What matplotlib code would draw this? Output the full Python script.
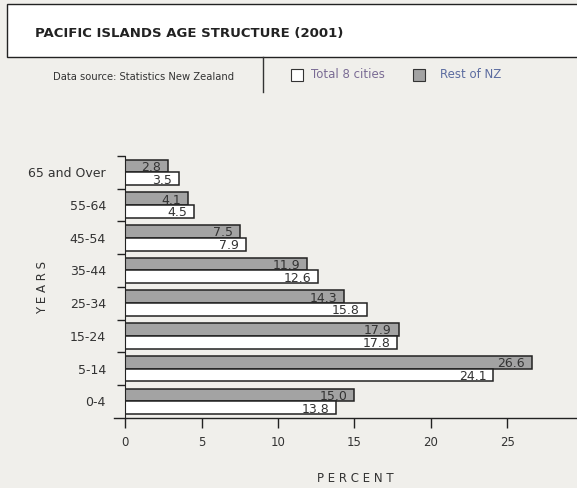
import matplotlib.pyplot as plt
from matplotlib.patches import Rectangle
from matplotlib.lines import Line2D

# age groups, bottom to top
ages = ['0-4', '5-14', '15-24', '25-34', '35-44', '45-54', '55-64', '65 and Over']
rest_nz = [15.0, 26.6, 17.9, 14.3, 11.9, 7.5, 4.1, 2.8]
total_8 = [13.8, 24.1, 17.8, 15.8, 12.6, 7.9, 4.5, 3.5]
xticks = [0, 5, 10, 15, 20, 25, 30]

bg = '#f0efeb'
txt = '#333333'
grey = '#a3a3a3'

W, H = 577, 488
fig = plt.figure(figsize=(W / 100, H / 100), dpi=100, facecolor=bg)

# header box
fig.patches.append(Rectangle((7 / W, 1 - 57 / H), 1, 53 / H, transform=fig.transFigure,
                             facecolor='white', edgecolor='#222222', lw=1))
fig.text(35 / W, 1 - 33 / H, 'PACIFIC ISLANDS AGE STRUCTURE (2001)', fontsize=9.5,
         fontweight='bold', color='#222222', va='center')
fig.text(53 / W, 1 - 77 / H, 'Data source: Statistics New Zealand', fontsize=7.2,
         color=txt, va='center')
fig.lines.append(Line2D([263 / W, 263 / W], [1 - 57 / H, 1 - 92 / H],
                        transform=fig.transFigure, color='#333333', lw=1))

# legend
fig.patches.append(Rectangle((291 / W, 1 - 81 / H), 12 / W, 12 / H, transform=fig.transFigure,
                             facecolor='white', edgecolor='#333333', lw=0.8))
fig.text(311 / W, 1 - 75 / H, 'Total 8 cities', fontsize=8.5, color='#7a6b94', va='center')
fig.patches.append(Rectangle((413 / W, 1 - 81 / H), 12 / W, 12 / H, transform=fig.transFigure,
                             facecolor=grey, edgecolor='#333333', lw=0.8))
fig.text(440 / W, 1 - 75 / H, 'Rest of NZ', fontsize=8.5, color='#5c6ca0', va='center')

# chart
ax = fig.add_axes([125.3 / W, (H - 417.7) / H, (583.6 - 125.3) / W, (417.7 - 156) / H])
ax.set_facecolor('none')

y = list(range(len(ages)))
h = 0.39
ax.barh([v + h / 2 for v in y], rest_nz, height=h, color=grey, edgecolor='#222222', lw=1.1)
ax.barh([v - h / 2 for v in y], total_8, height=h, color='white', edgecolor='#222222', lw=1.1)

for i in y:
    ax.annotate(f'{rest_nz[i]:.1f}', (rest_nz[i], i + h / 2), xytext=(-5, -1),
                textcoords='offset points', ha='right', va='center', fontsize=9, color=txt)
    ax.annotate(f'{total_8[i]:.1f}', (total_8[i], i - h / 2), xytext=(-5, -1),
                textcoords='offset points', ha='right', va='center', fontsize=9, color=txt)

ax.set_xlim(0, 30)
ax.set_ylim(-0.5, len(ages) - 0.5)
ax.set_xticks(xticks)
ax.tick_params(axis='x', direction='out', length=7, width=1, colors='#222222',
               labelcolor=txt, labelsize=8.5, pad=6)

ax.set_yticks([v + 0.5 for v in y])
ax.set_yticklabels([])
ax.set_yticks(y, minor=True)
ax.set_yticklabels(ages, minor=True)
ax.tick_params(axis='y', which='major', length=6, width=1, colors='#222222')
ax.tick_params(axis='y', which='minor', length=0, pad=14, labelsize=9, labelcolor=txt)

for s in ['top', 'right', 'bottom']:
    ax.spines[s].set_visible(False)
ax.spines['left'].set_color('#222222')
ax.add_line(Line2D([-0.024, 1], [0, 0], transform=ax.transAxes, color='#222222',
                   lw=1, clip_on=False))

fig.text(355 / W, 1 - 478 / H, 'P E R C E N T', fontsize=8.5, color=txt, ha='center', va='center')
fig.text(43 / W, 1 - 287 / H, 'Y E A R S', fontsize=8.5, color=txt, ha='center', va='center',
         rotation=90)

fig.savefig('out.png', dpi=100, facecolor=bg)
